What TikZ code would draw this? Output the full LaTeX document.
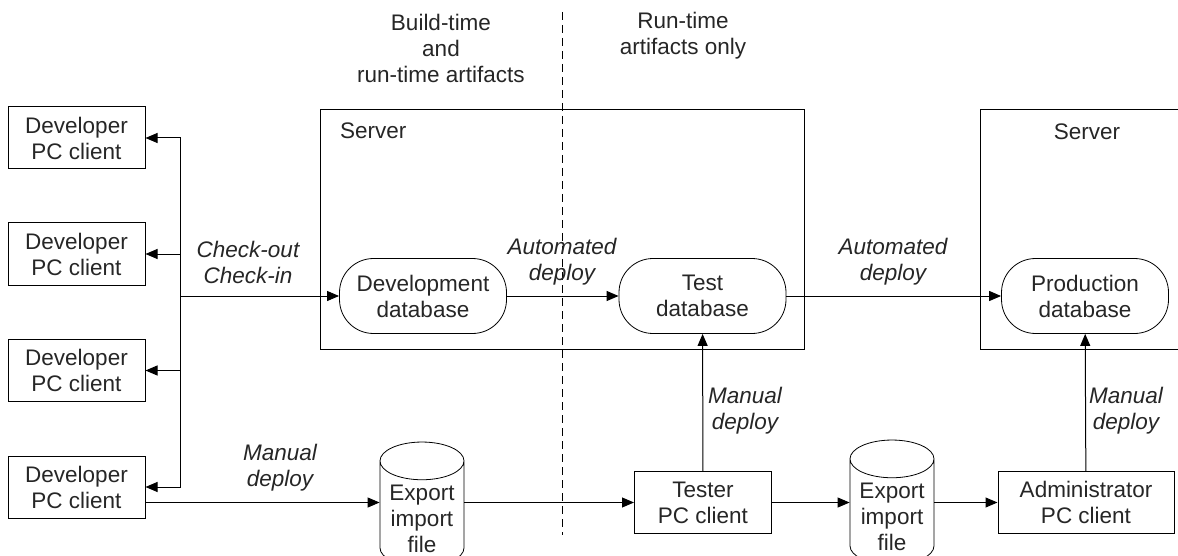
\documentclass[tikz,border=0pt]{standalone}
\usepackage{fontspec}
\setmainfont{Liberation Sans}
\usetikzlibrary{shapes.geometric}
\usetikzlibrary{arrows.meta}

\begin{document}
\begin{tikzpicture}[x=1pt, y=-1pt, >={Triangle[length=12pt,width=10pt]},
  every node/.style={font=\fontsize{22.5}{26}\selectfont, text=black!85, align=center, inner sep=0pt},
  client/.style={draw, line width=1pt, minimum width=137pt, minimum height=62pt},
  db/.style={draw, line width=0.8pt, rounded corners=34pt, minimum width=167pt, minimum height=75pt},
  file/.style={draw, line width=0.8pt, cylinder, shape border rotate=90, aspect=0.58, minimum width=84pt, minimum height=104pt,
    label={[yshift=-5pt]center:Export\\import\\file}},
  srv/.style={draw, line width=1pt},
  lbl/.style={font=\fontsize{22.5}{26}\selectfont\itshape}]
\useasboundingbox (0,0) rectangle (1178,556);

\node at (441,48) (BT) {Build-time\\and\\run-time artifacts};
\node at (683,36) (RT) {Run-time\\artifacts only};

\node[srv, minimum width=484pt, minimum height=239pt] at (562,229.5) (S1) {};
\node[srv, minimum width=220pt, minimum height=239pt] at (1090,229.5) (S2) {};
\node[anchor=west] at (340,131) (S1L) {Server};
\node at (1087,132) (S2L) {Server};

\coordinate (V1) at (562,12);
\coordinate (V2) at (562,535);
\draw[dash pattern=on 8pt off 5pt, line width=0.8pt] (V1) -- (V2);

\node[client] at (76.5,138) (D1) {Developer\\PC client};
\node[client] at (76.5,254) (D2) {Developer\\PC client};
\node[client] at (76.5,370.5) (D3) {Developer\\PC client};
\node[client] at (76.5,487) (D4) {Developer\\PC client};

\node[db] at (423,296) (DevDB) {Development\\database};
\node[db] at (702.5,296) (TestDB) {Test\\database};
\node[db] at (1085,296) (ProdDB) {Production\\database};

\node[client] at (703,502.5) (T) {Tester\\PC client};
\node[client, minimum width=176pt] at (1086,502.5) (Adm) {Administrator\\PC client};
\node[file] at (422,514) (F1) {\phantom{Export}\\\phantom{import}\\\phantom{file}};
\node[file] at (892,512) (F2) {\phantom{Export}\\\phantom{import}\\\phantom{file}};

\coordinate (bus) at (180,296);
\draw[->, line width=1pt] (bus) |- (D1);
\draw[->, line width=1pt] (bus) |- (D2);
\draw[->, line width=1pt] (bus) |- (D3);
\draw[->, line width=1pt] (bus) |- (D4);
\draw[->, line width=1pt] (bus) -- (DevDB);
\node[lbl] at (248,262) (CK) {Check-out\\Check-in};

\draw[->, line width=1pt] (DevDB) -- (TestDB);
\draw[->, line width=1pt] (TestDB) -- (ProdDB);
\node[lbl] at (562,262) (AD1) {Automated\\deploy};
\node[lbl] at (893,262) (AD2) {Automated\\deploy};

\draw[->, line width=1pt] (D4.east |- T) -- (F1.west |- T);
\draw[->, line width=1pt] (F1.east |- T) -- (T);
\draw[->, line width=1pt] (T) -- (F2.west |- T);
\draw[->, line width=1pt] (F2.east |- Adm) -- (Adm);
\draw[->, line width=1pt] (T) -- (TestDB);
\draw[->, line width=1pt] (Adm) -- (ProdDB);
\node[lbl] at (280,468) (MD1) {Manual\\deploy};
\node[lbl] at (745,411) (MD2) {Manual\\deploy};
\node[lbl] at (1126,411) (MD3) {Manual\\deploy};
\end{tikzpicture}
\end{document}
